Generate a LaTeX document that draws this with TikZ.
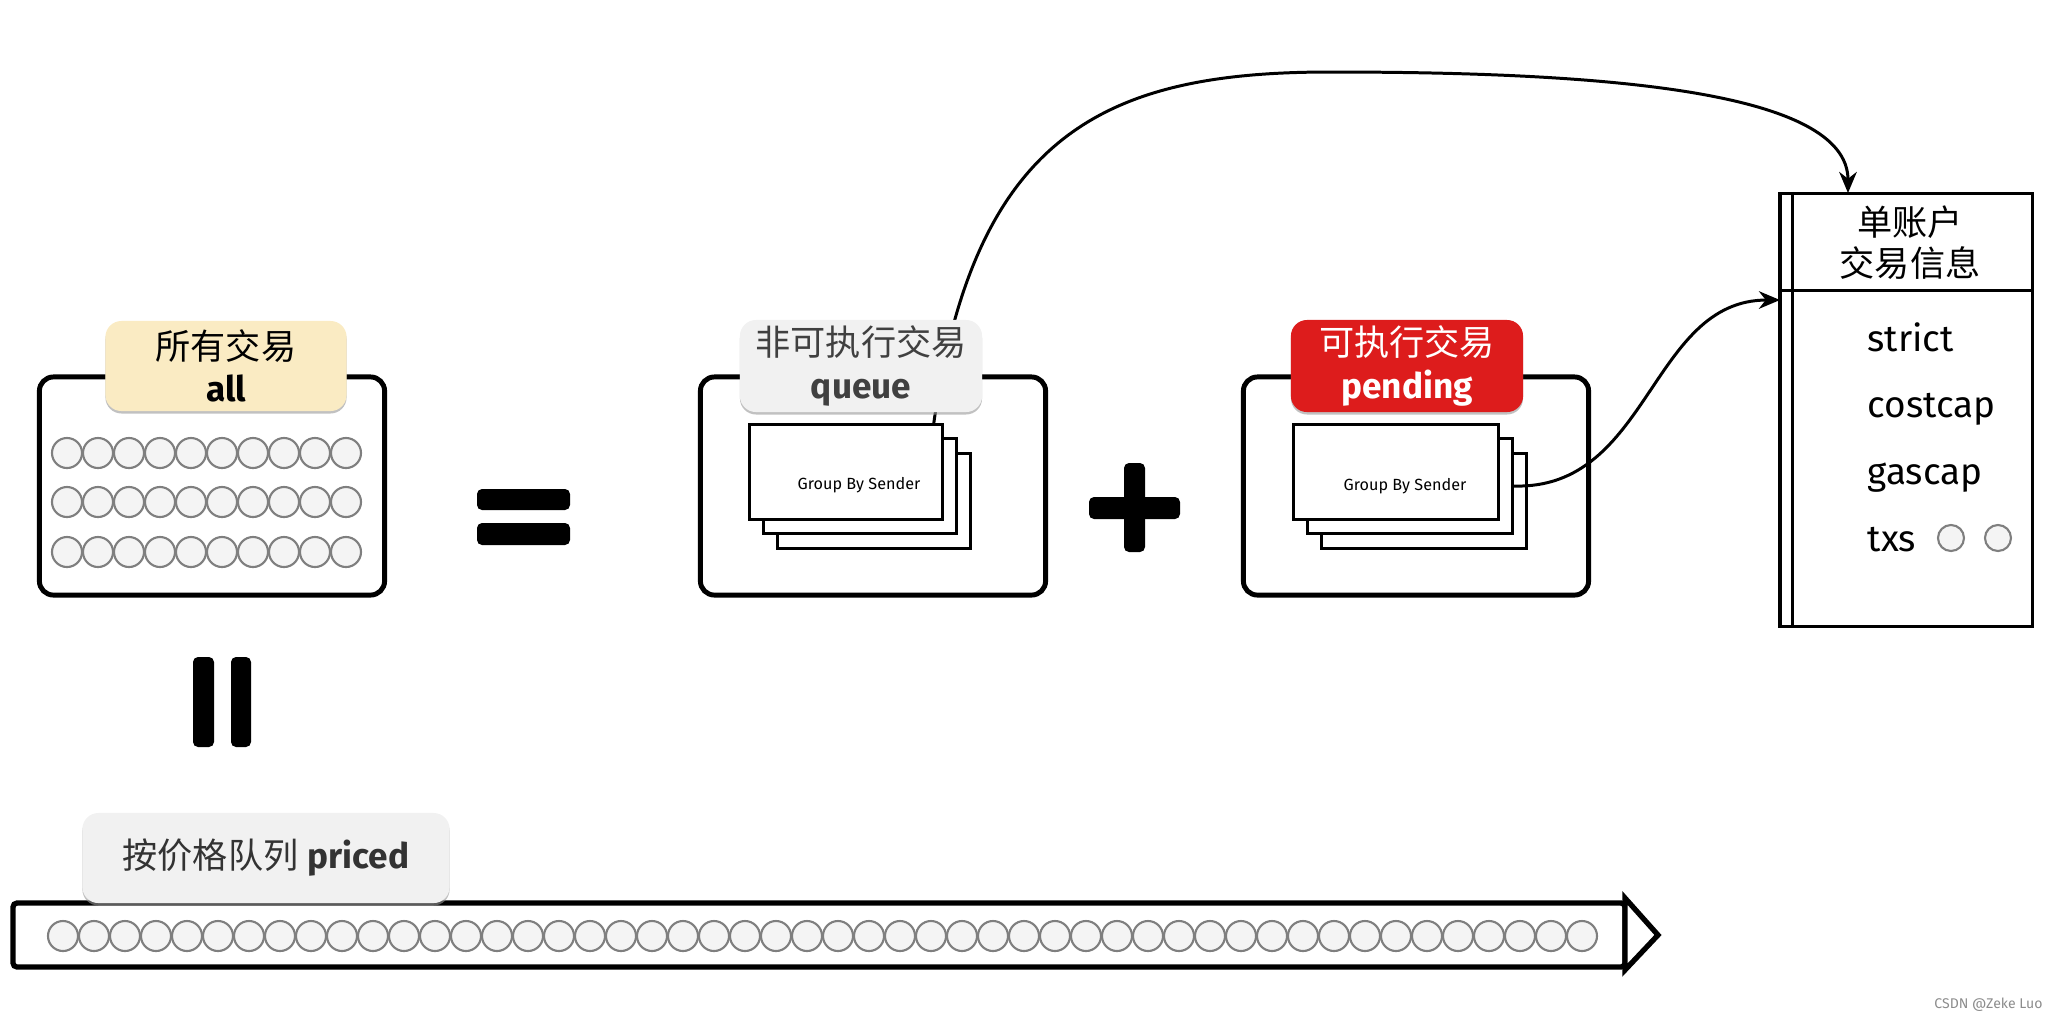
\documentclass[tikz,border=0pt]{standalone}
\usepackage{fontspec}
\setmainfont{Fira Sans}
\newfontfamily\cn{Noto Sans CJK SC}
\usepackage{tikz}
\usetikzlibrary{arrows.meta,positioning,calc,shadows}
\definecolor{tagyellow}{HTML}{FAEBC3}
\definecolor{taggray}{HTML}{F1F1F1}
\definecolor{tagred}{HTML}{DD1C1C}
\definecolor{ballgray}{HTML}{7F7F7F}
\definecolor{ballfill}{HTML}{F4F4F4}

\begin{document}
\begin{tikzpicture}[x=0.01cm,y=-0.01cm,
	bigbox/.style={rounded corners=0.14cm, draw=black, line width=1.4pt, fill=white, minimum width=3.45cm, minimum height=2.18cm},
	tag/.style={rounded corners=0.16cm, align=center, inner sep=0pt, minimum width=2.41cm, minimum height=0.9cm, drop shadow={shadow xshift=0pt, shadow yshift=-0.7pt, fill=black!40, opacity=.6}, font=\fontsize{10}{12}\selectfont},
	card/.style={draw=black, fill=white, line width=0.7pt, minimum width=1.93cm, minimum height=0.95cm, inner sep=0pt},
	cardtext/.style={inner sep=0pt, font=\fontsize{4.6}{5}\selectfont},
	ball/.style={draw=ballgray, fill=ballfill, line width=0.6pt},
	bar/.style={fill=black, rounded corners=0.05cm},
	field/.style={anchor=base west, inner sep=0pt, font=\fontsize{10.5}{12}\selectfont},
	arr/.style={-{Stealth[length=6pt,width=5pt]}, line width=0.85pt}
	]
	\useasboundingbox (0,0) rectangle (2062,1020);

	% all transactions
	\node[bigbox] (allbox) at (212,486) {};
	\foreach \r in {453,502,552}
		\foreach \i in {0,...,9}
			\draw[ball] ({67+31*\i},\r) circle (0.15cm);
	\node[tag, fill=tagyellow] (alltag) at (226,366) {{\cn 所有交易}\\\textbf{all}};

	% = and ||
	\fill[bar] (477,489) rectangle (570,510);
	\fill[bar] (477,523) rectangle (570,545);
	\fill[bar] (193,657) rectangle (214,747);
	\fill[bar] (231,657) rectangle (251,747);

	% queue
	\node[bigbox] (queuebox) at (873,486) {};
	\node[card] (qcard3) at (874,501) {};
	\node[card] (qcard2) at (860,486) {};
	\node[card] (qcard1) at (846,472) {};
	\node[cardtext] (qtext) at ($(qcard1)+(13,13)$) {Group By Sender};

	% +
	\fill[bar] (1089,497) rectangle (1180,519);
	\fill[bar] (1124,463) rectangle (1145,552);

	% pending
	\node[bigbox] (pendbox) at (1416,486) {};
	\node[card, minimum width=2.05cm] (pcard3) at (1424,501) {};
	\node[card, minimum width=2.05cm] (pcard2) at (1410,486) {};
	\node[card, minimum width=2.05cm] (pcard1) at (1396,472) {};
	\node[cardtext] (ptext) at ($(pcard1)+(9,14)$) {Group By Sender};

	% account
	\node[draw, line width=0.9pt, minimum width=2.52cm, minimum height=4.33cm, inner sep=0pt] (acct) at (1906,410) {};
	\draw[line width=0.9pt] ([xshift=0.14cm]acct.north west) -- ([xshift=0.14cm]acct.south west);
	\draw[line width=0.9pt] ([yshift=-0.99cm]acct.north west) -- ([yshift=-0.99cm]acct.north east);
	\node[align=center, font=\cn\fontsize{10}{11.7}\selectfont] (accttitle) at (1910,243) {单账户\\交易信息};
	\node[field] (strict) at (1867,351) {strict};
	\node[field] (costcap) at (1867,417) {costcap};
	\node[field] (gascap) at (1867,484) {gascap};
	\node[field] (txs) at (1867,551) {txs};
	\draw[ball] (1951,538) circle (0.13cm);
	\draw[ball] (1998,538) circle (0.13cm);
	\coordinate (accttop) at (1848,193);
	\coordinate (acctin) at (1780,300);

	\draw[arr] ([xshift=-0.1cm]qcard1.north east) .. controls (975,130) and (1110,72) .. (1330,72) .. controls (1600,72) and (1848,90) .. (accttop);
	\draw[arr] (pcard2.east) .. controls (1650,490) and (1650,300) .. (acctin);

	\node[tag, fill=taggray, text=black!75, minimum width=2.42cm, minimum height=0.92cm] (queuetag) at (861,366) {{\cn 非可执行交易}\\\textbf{queue}};
	\node[tag, fill=tagred, text=white, minimum width=2.32cm, minimum height=0.92cm] (pendtag) at (1407,366) {{\cn 可执行交易}\\\textbf{pending}};

	% priced
	\draw[line width=1.5pt, rounded corners=0.04cm] (13,903) rectangle (1625,967);
	\draw[line width=1.5pt, line join=miter, fill=white] (1625,898) -- (1658,935) -- (1625,970) -- cycle;
	\foreach \i in {0,...,49}
		\draw[ball] ({63+31*\i},936) circle (0.15cm);
	\node[tag, fill=taggray, text=black!80, minimum width=3.67cm] (pricedtag) at (266,858) {{\cn 按价格队列}\ \textbf{priced}};

	\node[anchor=east, text=black!45, font=\fontsize{4}{5}\selectfont] (mark) at (2055,1005) {CSDN @Zeke Luo};
\end{tikzpicture}
\end{document}
